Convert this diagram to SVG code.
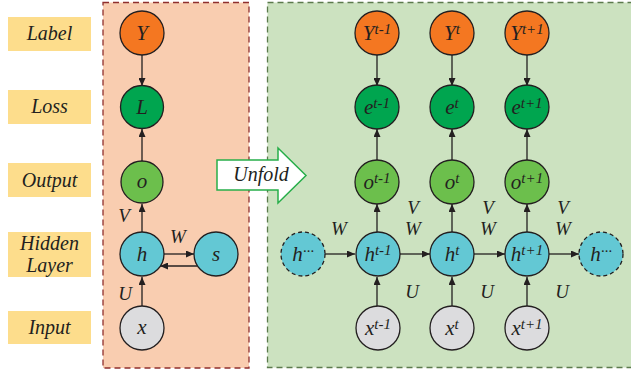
<svg xmlns="http://www.w3.org/2000/svg" width="631" height="375" viewBox="0 0 631 375">
<defs>
<marker id="ah" markerUnits="userSpaceOnUse" markerWidth="9" markerHeight="7" refX="8" refY="3.5" orient="auto">
<path d="M0,0 L8,3.5 L0,7 z" fill="#231f20"/>
</marker>
<style>
.t{font-family:"Liberation Serif","Times New Roman",serif;font-style:italic;fill:#231f20;}
.lab{font-size:20px;text-anchor:middle;}
.nd{font-size:21px;text-anchor:middle;}
.sup{font-size:15px;}
.wl{font-size:19px;text-anchor:middle;}
.ybox{fill:#fddd8c;}
.c{stroke:#231f20;stroke-width:1.3;}
.orange{fill:#f47721;}
.dg{fill:#00a54f;}
.lg{fill:#6cbf4c;}
.cy{fill:#63c8d4;}
.gr{fill:#dcdcde;}
.dash{stroke-dasharray:4,3;}
.ar{stroke:#231f20;stroke-width:1.3;fill:none;marker-end:url(#ah);}
</style>
</defs>
<rect width="631" height="375" fill="#ffffff"/>
<!-- panels -->
<rect x="103" y="2.5" width="146" height="365.5" fill="#f9cdb0" stroke="#8f2f2d" stroke-width="1.3" stroke-dasharray="6,4"/>
<rect x="267.5" y="2.5" width="370" height="365" fill="#cce2c0" stroke="#5b7a4c" stroke-width="1.3" stroke-dasharray="6,4"/>
<!-- row labels -->
<g id="row-label"><rect class="ybox" x="8" y="17" width="83" height="34"/><text class="t lab" x="49.5" y="40">Label</text></g>
<g id="row-loss"><rect class="ybox" x="8" y="90" width="83" height="34"/><text class="t lab" x="49.5" y="113">Loss</text></g>
<g id="row-output"><rect class="ybox" x="8" y="163" width="83" height="34"/><text class="t lab" x="49.5" y="187">Output</text></g>
<g id="row-hidden"><rect class="ybox" x="8" y="232" width="83" height="45"/><text class="t lab" x="49.5" y="250">Hidden</text><text class="t lab" x="49.5" y="272">Layer</text></g>
<g id="row-input"><rect class="ybox" x="8" y="311" width="83" height="33"/><text class="t lab" x="49.5" y="334">Input</text></g>
<!-- unfold arrow -->
<g id="unfold">
<path d="M217,160 L278,160 L278,148 L306,175.5 L278,203 L278,190 L217,190 z" fill="#ffffff" stroke="#27ae4a" stroke-width="1.5"/>
<text class="t" x="261" y="181" font-size="20" text-anchor="middle">Unfold</text>
</g>
<!-- connectors -->
<g id="connectors">
<line class="ar" x1="142" y1="55" x2="142" y2="86"/>
<line class="ar" x1="142" y1="162" x2="142" y2="129"/>
<line class="ar" x1="142" y1="232" x2="142" y2="204"/>
<line class="ar" x1="142" y1="306" x2="142" y2="277"/>
<line class="ar" x1="164" y1="254" x2="194" y2="254"/>
<line class="ar" x1="197" y1="266" x2="160" y2="266"/>
<line class="ar" x1="377" y1="55" x2="377" y2="86"/>
<line class="ar" x1="452" y1="55" x2="452" y2="86"/>
<line class="ar" x1="527" y1="55" x2="527" y2="86"/>
<line class="ar" x1="377" y1="162" x2="377" y2="129"/>
<line class="ar" x1="452" y1="162" x2="452" y2="129"/>
<line class="ar" x1="527" y1="162" x2="527" y2="129"/>
<line class="ar" x1="377" y1="232" x2="377" y2="204"/>
<line class="ar" x1="452" y1="232" x2="452" y2="204"/>
<line class="ar" x1="527" y1="232" x2="527" y2="204"/>
<line class="ar" x1="377" y1="306" x2="377" y2="277"/>
<line class="ar" x1="452" y1="306" x2="452" y2="277"/>
<line class="ar" x1="527" y1="306" x2="527" y2="277"/>
<line class="ar" x1="325" y1="254" x2="355" y2="254"/>
<line class="ar" x1="400" y1="254" x2="430" y2="254"/>
<line class="ar" x1="474" y1="254" x2="505" y2="254"/>
<line class="ar" x1="549" y1="254" x2="579" y2="254"/>
<text class="t wl" x="124" y="222">V</text>
<text class="t wl" x="178" y="243">W</text>
<text class="t wl" x="125" y="300">U</text>
<text class="t wl" x="339" y="235">W</text>
<text class="t wl" x="413" y="214">V</text>
<text class="t wl" x="413" y="235">W</text>
<text class="t wl" x="488" y="214">V</text>
<text class="t wl" x="488" y="235">W</text>
<text class="t wl" x="563" y="214">V</text>
<text class="t wl" x="563" y="235">W</text>
<text class="t wl" x="412" y="298">U</text>
<text class="t wl" x="487" y="298">U</text>
<text class="t wl" x="562" y="298">U</text>
</g>
<!-- left nodes -->
<g id="Y"><circle class="c orange" cx="142" cy="33" r="22"/><text class="t nd" x="142" y="40">Y</text></g>
<g id="L"><circle class="c dg" cx="142" cy="107" r="21.5"/><text class="t nd" x="142" y="114">L</text></g>
<g id="o"><circle class="c lg" cx="142" cy="182" r="21"/><text class="t nd" x="142" y="188">o</text></g>
<g id="h"><circle class="c cy" cx="142" cy="254" r="22"/><text class="t nd" x="142" y="261">h</text></g>
<g id="s"><circle class="c cy" cx="216" cy="254" r="22"/><text class="t nd" x="216" y="261">s</text></g>
<g id="x"><circle class="c gr" cx="142" cy="328" r="22"/><text class="t nd" x="142" y="334">x</text></g>
<!-- right nodes -->
<g id="Y-tm1"><circle class="c orange" cx="377" cy="33" r="22"/><text class="t nd" x="377" y="40">Y<tspan class="sup" dy="-6">t-1</tspan></text></g>
<g id="Y-t"><circle class="c orange" cx="452" cy="33" r="22"/><text class="t nd" x="452" y="40">Y<tspan class="sup" dy="-6">t</tspan></text></g>
<g id="Y-tp1"><circle class="c orange" cx="527" cy="33" r="22"/><text class="t nd" x="527" y="40">Y<tspan class="sup" dy="-6">t+1</tspan></text></g>
<g id="e-tm1"><circle class="c dg" cx="377" cy="107" r="22"/><text class="t nd" x="377" y="114">e<tspan class="sup" dy="-6">t-1</tspan></text></g>
<g id="e-t"><circle class="c dg" cx="452" cy="107" r="22"/><text class="t nd" x="452" y="114">e<tspan class="sup" dy="-6">t</tspan></text></g>
<g id="e-tp1"><circle class="c dg" cx="527" cy="107" r="22"/><text class="t nd" x="527" y="114">e<tspan class="sup" dy="-6">t+1</tspan></text></g>
<g id="o-tm1"><circle class="c lg" cx="377" cy="182" r="22"/><text class="t nd" x="377" y="189">o<tspan class="sup" dy="-6">t-1</tspan></text></g>
<g id="o-t"><circle class="c lg" cx="452" cy="182" r="22"/><text class="t nd" x="452" y="189">o<tspan class="sup" dy="-6">t</tspan></text></g>
<g id="o-tp1"><circle class="c lg" cx="527" cy="182" r="22"/><text class="t nd" x="527" y="189">o<tspan class="sup" dy="-6">t+1</tspan></text></g>
<g id="h-prev"><circle class="c cy dash" cx="303" cy="254" r="22"/><text class="t nd" x="303" y="261">h<tspan class="sup" dy="-5">···</tspan></text></g>
<g id="h-tm1"><circle class="c cy" cx="378" cy="254" r="22"/><text class="t nd" x="378" y="261">h<tspan class="sup" dy="-6">t-1</tspan></text></g>
<g id="h-t"><circle class="c cy" cx="452" cy="254" r="22"/><text class="t nd" x="452" y="261">h<tspan class="sup" dy="-6">t</tspan></text></g>
<g id="h-tp1"><circle class="c cy" cx="527" cy="254" r="22"/><text class="t nd" x="527" y="261">h<tspan class="sup" dy="-6">t+1</tspan></text></g>
<g id="h-next"><circle class="c cy dash" cx="601" cy="254" r="22"/><text class="t nd" x="601" y="261">h<tspan class="sup" dy="-5">···</tspan></text></g>
<g id="x-tm1"><circle class="c gr" cx="378" cy="328" r="22"/><text class="t nd" x="378" y="335">x<tspan class="sup" dy="-6">t-1</tspan></text></g>
<g id="x-t"><circle class="c gr" cx="452" cy="328" r="22"/><text class="t nd" x="452" y="335">x<tspan class="sup" dy="-6">t</tspan></text></g>
<g id="x-tp1"><circle class="c gr" cx="527" cy="328" r="22"/><text class="t nd" x="527" y="335">x<tspan class="sup" dy="-6">t+1</tspan></text></g>
</svg>
